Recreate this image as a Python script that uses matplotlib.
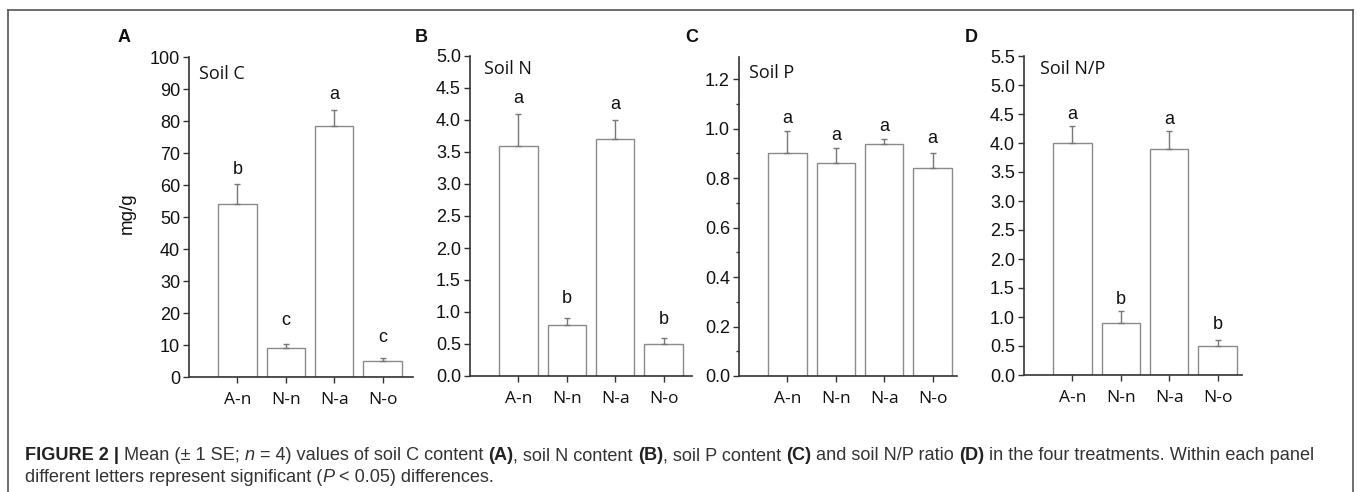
import matplotlib
matplotlib.use("Agg")
import matplotlib.pyplot as plt
from matplotlib.ticker import MultipleLocator, FormatStrFormatter
from matplotlib.lines import Line2D

# ---------------- data ----------------
categories = ["A-n", "N-n", "N-a", "N-o"]

soil_c = [54.0, 9.2, 78.3, 5.1]
soil_c_se = [6.3, 1.1, 5.2, 0.9]
soil_c_letters = ["b", "c", "a", "c"]
soil_c_letter_y = [63.5, 16.3, 86.9, 10.9]

soil_n = [3.6, 0.8, 3.7, 0.5]
soil_n_se = [0.5, 0.1, 0.3, 0.1]
soil_n_letters = ["a", "b", "a", "b"]
soil_n_letter_y = [4.27, 1.14, 4.17, 0.81]

soil_p = [0.90, 0.86, 0.94, 0.84]
soil_p_se = [0.09, 0.06, 0.02, 0.06]
soil_p_letters = ["a", "a", "a", "a"]
soil_p_letter_y = [1.023, 0.956, 0.991, 0.943]

soil_np = [4.0, 0.9, 3.9, 0.5]
soil_np_se = [0.3, 0.2, 0.3, 0.1]
soil_np_letters = ["a", "b", "a", "b"]
soil_np_letter_y = [4.41, 1.22, 4.32, 0.79]

# ---------------- figure ----------------
W, H = 1357, 492
fig = plt.figure(figsize=(W / 100, H / 100), dpi=100)

ARIAL = "Liberation Sans"
SEGOE = "Open Sans"
AXIS_COL = "#333333"
BAR_EDGE = "#8a8a8a"
ERR_COL = "#777777"


def px_axes(left, right, top, bottom):
    return fig.add_axes([left / W, 1 - bottom / H, (right - left) / W, (bottom - top) / H])


panels = [
    ((189, 413, 57, 377), soil_c, soil_c_se, soil_c_letters, soil_c_letter_y,
     (0, 100), 10, None, "%d", "Soil C", "A", (199, 74), (124, 37)),
    ((470, 692, 56, 376), soil_n, soil_n_se, soil_n_letters, soil_n_letter_y,
     (0, 5.0), 0.5, None, "%.1f", "Soil N", "B", (484, 69), (421, 37)),
    ((739, 957, 57, 376), soil_p, soil_p_se, soil_p_letters, soil_p_letter_y,
     (0, 1.29), 0.2, 0.1, "%.1f", "Soil P", "C", (749, 73), (692, 37)),
    ((1024, 1242, 56, 375), soil_np, soil_np_se, soil_np_letters, soil_np_letter_y,
     (0, 5.5), 0.5, None, "%.1f", "Soil N/P", "D", (1040, 69), (971, 37)),
]

spacing_px = 48.4
for (box, vals, se, lets, ly, ylim, major, minor, fmt, title, plabel, tpos, ppos) in panels:
    left, right, top, bottom = box
    ax = px_axes(left, right, top, bottom)
    x = list(range(1, len(categories) + 1))
    ax.bar(x, vals, width=0.79, color="white", edgecolor=BAR_EDGE, linewidth=1.0, zorder=2)
    ax.errorbar(x, vals, yerr=[[0] * len(se), se], fmt="none", ecolor=ERR_COL,
                elinewidth=1.0, capsize=2.4, capthick=1.0, zorder=3)
    for xi, lab, yy in zip(x, lets, ly):
        ax.text(xi, yy, lab, ha="center", va="baseline", fontsize=13,
                family=ARIAL, color="#111111")
    ax.set_xlim(0, (right - left) / spacing_px)
    ax.set_ylim(*ylim)
    ax.set_xticks(x)
    ax.set_xticklabels(categories, family=SEGOE, fontsize=12.5, color="#111111")
    ax.yaxis.set_major_locator(MultipleLocator(major))
    if minor:
        ax.yaxis.set_minor_locator(MultipleLocator(minor))
    ax.yaxis.set_major_formatter(FormatStrFormatter(fmt))
    for lbl in ax.get_yticklabels():
        lbl.set_family(ARIAL)
        lbl.set_fontsize(13)
        lbl.set_color("#111111")
    ax.spines["top"].set_visible(False)
    ax.spines["right"].set_visible(False)
    for s in ("left", "bottom"):
        ax.spines[s].set_color(AXIS_COL)
        ax.spines[s].set_linewidth(1.2)
    ax.tick_params(axis="both", which="major", direction="out", length=4.5, width=1.0,
                   color=AXIS_COL)
    ax.tick_params(axis="y", which="major", pad=2)
    ax.tick_params(axis="x", which="major", pad=6.5)
    ax.tick_params(axis="y", which="minor", direction="out", length=2.5, width=1.0,
                   color=AXIS_COL)
    fig.text(tpos[0] / W, 1 - tpos[1] / H, title, ha="left", va="center",
             family=SEGOE, fontsize=13, color="#111111")
    fig.text(ppos[0] / W, 1 - ppos[1] / H, plabel, ha="center", va="center",
             family=ARIAL, fontsize=13, fontweight="bold", color="#111111")

fig.text(127 / W, 1 - 213 / H, "mg/g", rotation=90, ha="center", va="center",
         family=ARIAL, fontsize=13.5, color="#111111")

# outer frame (top, left, right)
frame_col = "#555555"
fig.add_artist(Line2D([8 / W, 1353 / W], [1 - 10 / H, 1 - 10 / H], color=frame_col, lw=1.2,
                      transform=fig.transFigure))
fig.add_artist(Line2D([8 / W, 8 / W], [1 - 10 / H, 0], color=frame_col, lw=1.2,
                      transform=fig.transFigure))
fig.add_artist(Line2D([1353 / W, 1353 / W], [1 - 10 / H, 0], color=frame_col, lw=1.2,
                      transform=fig.transFigure))

# caption with mixed styles
renderer = fig.canvas.get_renderer()
CAP_SIZE = 13.1
CAP_COL = "#333333"


def caption_line(pieces, x0, y):
    x = x0
    for txt, weight, style in pieces:
        t = fig.text(x / W, 1 - y / H, txt, ha="left", va="center", family=ARIAL,
                     fontsize=CAP_SIZE, fontweight=weight, style=style,
                     color="#222222" if weight == "bold" else CAP_COL)
        bb = t.get_window_extent(renderer=renderer)
        x += bb.width


line1 = [
    ("FIGURE 2 | ", "bold", "normal"),
    ("Mean (\u00b1 1 SE; ", "normal", "normal"),
    ("n", "normal", "italic"),
    (" = 4) values of soil C content ", "normal", "normal"),
    ("(A)", "bold", "normal"),
    (", soil N content ", "normal", "normal"),
    ("(B)", "bold", "normal"),
    (", soil P content ", "normal", "normal"),
    ("(C)", "bold", "normal"),
    (" and soil N/P ratio ", "normal", "normal"),
    ("(D)", "bold", "normal"),
    (" in the four treatments. Within each panel", "normal", "normal"),
]
line2 = [
    ("different letters represent significant (", "normal", "normal"),
    ("P", "normal", "italic"),
    (" < 0.05) differences.", "normal", "normal"),
]
caption_line(line1, 25, 456)
caption_line(line2, 25, 478)

fig.savefig("out.png", dpi=100)
